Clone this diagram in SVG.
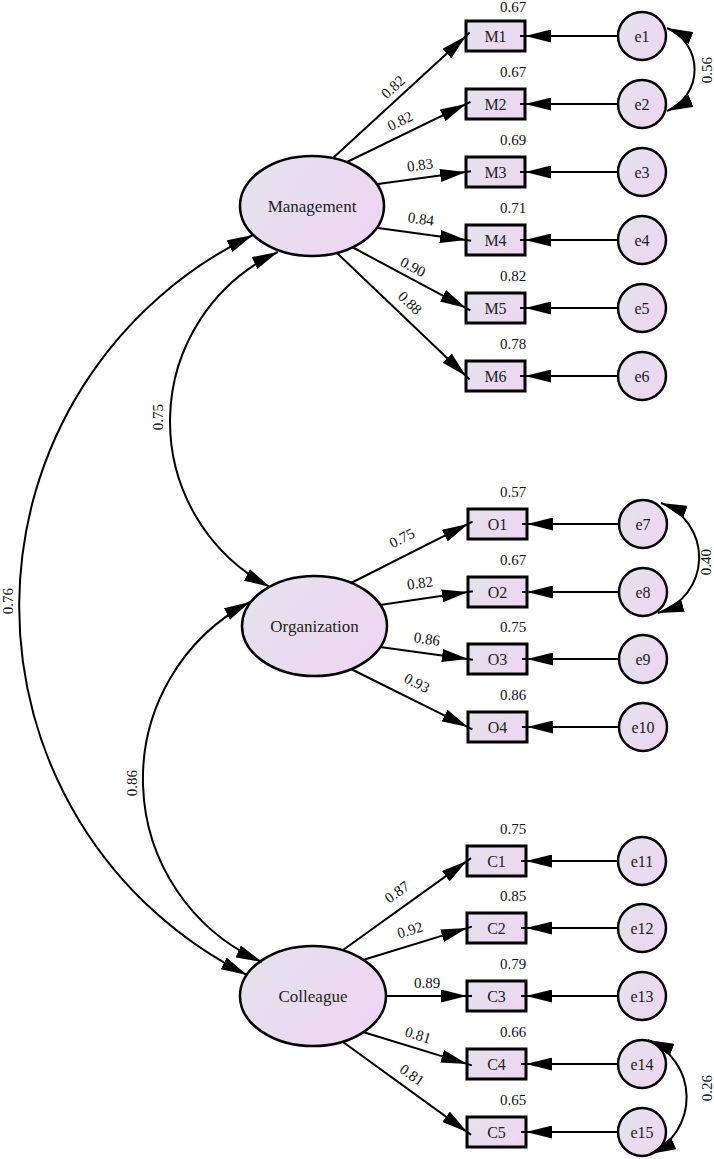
<svg xmlns="http://www.w3.org/2000/svg" width="714" height="1159" viewBox="0 0 714 1159">
<defs>
<linearGradient id="fill" x1="0" y1="0" x2="1" y2="0.5">
<stop offset="0" stop-color="#e3e3ed"/>
<stop offset="1" stop-color="#eed6f2"/>
</linearGradient>
<marker id="ah" viewBox="0 0 26 13" refX="26" refY="6.5" markerWidth="26" markerHeight="13" markerUnits="userSpaceOnUse" orient="auto-start-reverse"><path d="M0,0 L26,6.5 L0,13 z" fill="#000"/></marker>
<marker id="ahb" viewBox="0 0 26 13" refX="31" refY="6.5" markerWidth="26" markerHeight="13" markerUnits="userSpaceOnUse" orient="auto"><path d="M0,0 L26,6.5 L0,13 z" fill="#000"/></marker>
</defs>
<style>
.box{fill:url(#fill);stroke:#000;stroke-width:3}
.lat{fill:url(#fill);stroke:#000;stroke-width:2.5}
.err{fill:url(#fill);stroke:#000;stroke-width:2.5}
.t{font-family:"Liberation Serif","Times New Roman",serif;font-size:16px;fill:#222;text-anchor:middle}
.tl{font-family:"Liberation Serif","Times New Roman",serif;font-size:17px;fill:#222;text-anchor:middle}
.n{font-family:"Liberation Serif","Times New Roman",serif;font-size:15px;fill:#111;text-anchor:middle}
.c line,.c path{stroke:#000;stroke-width:2;fill:none}
</style>
<rect width="714" height="1159" fill="#fff"/>

<g id="Management"><ellipse class="lat" cx="312" cy="206" rx="72" ry="50"/><text class="tl" x="312" y="212">Management</text></g>
<g id="Organization"><ellipse class="lat" cx="314.5" cy="626" rx="72.5" ry="50"/><text class="tl" x="314.5" y="632">Organization</text></g>
<g id="Colleague"><ellipse class="lat" cx="313" cy="996" rx="73" ry="50"/><text class="tl" x="313" y="1002">Colleague</text></g>

<g id="M1"><rect class="box" x="466" y="21" width="59" height="30"/><text class="t" x="495.5" y="41.5">M1</text><text class="n" x="513" y="12">0.67</text></g>
<g id="M2"><rect class="box" x="466" y="89" width="59" height="30"/><text class="t" x="495.5" y="109.5">M2</text><text class="n" x="513" y="77">0.67</text></g>
<g id="M3"><rect class="box" x="466" y="157" width="59" height="30"/><text class="t" x="495.5" y="177.5">M3</text><text class="n" x="513" y="145">0.69</text></g>
<g id="M4"><rect class="box" x="466" y="225" width="59" height="30"/><text class="t" x="495.5" y="245.5">M4</text><text class="n" x="513" y="213">0.71</text></g>
<g id="M5"><rect class="box" x="466" y="293" width="59" height="30"/><text class="t" x="495.5" y="313.5">M5</text><text class="n" x="513" y="281">0.82</text></g>
<g id="M6"><rect class="box" x="466" y="361" width="59" height="30"/><text class="t" x="495.5" y="381.5">M6</text><text class="n" x="513" y="349">0.78</text></g>

<g id="O1"><rect class="box" x="468" y="509" width="59" height="30"/><text class="t" x="497.5" y="529.5">O1</text><text class="n" x="513" y="497">0.57</text></g>
<g id="O2"><rect class="box" x="468" y="577" width="59" height="30"/><text class="t" x="497.5" y="597.5">O2</text><text class="n" x="513" y="565">0.67</text></g>
<g id="O3"><rect class="box" x="468" y="644" width="59" height="30"/><text class="t" x="497.5" y="664.5">O3</text><text class="n" x="513" y="632">0.75</text></g>
<g id="O4"><rect class="box" x="468" y="712" width="59" height="30"/><text class="t" x="497.5" y="732.5">O4</text><text class="n" x="513" y="700">0.86</text></g>

<g id="C1"><rect class="box" x="467" y="846" width="59" height="30"/><text class="t" x="496.5" y="866.5">C1</text><text class="n" x="513" y="834">0.75</text></g>
<g id="C2"><rect class="box" x="467" y="913" width="59" height="30"/><text class="t" x="496.5" y="933.5">C2</text><text class="n" x="513" y="901">0.85</text></g>
<g id="C3"><rect class="box" x="467" y="981" width="59" height="30"/><text class="t" x="496.5" y="1001.5">C3</text><text class="n" x="513" y="969">0.79</text></g>
<g id="C4"><rect class="box" x="467" y="1049" width="59" height="30"/><text class="t" x="496.5" y="1069.5">C4</text><text class="n" x="513" y="1037">0.66</text></g>
<g id="C5"><rect class="box" x="467" y="1117" width="59" height="30"/><text class="t" x="496.5" y="1137.5">C5</text><text class="n" x="513" y="1105">0.65</text></g>

<g id="e1"><circle class="err" cx="642" cy="36" r="24"/><text class="t" x="642" y="41.5">e1</text></g>
<g id="e2"><circle class="err" cx="642" cy="104" r="24"/><text class="t" x="642" y="109.5">e2</text></g>
<g id="e3"><circle class="err" cx="642" cy="172" r="24"/><text class="t" x="642" y="177.5">e3</text></g>
<g id="e4"><circle class="err" cx="642" cy="240" r="24"/><text class="t" x="642" y="245.5">e4</text></g>
<g id="e5"><circle class="err" cx="642" cy="308" r="24"/><text class="t" x="642" y="313.5">e5</text></g>
<g id="e6"><circle class="err" cx="642" cy="376" r="24"/><text class="t" x="642" y="381.5">e6</text></g>
<g id="e7"><circle class="err" cx="643" cy="524" r="24"/><text class="t" x="643" y="529.5">e7</text></g>
<g id="e8"><circle class="err" cx="643" cy="592" r="24"/><text class="t" x="643" y="597.5">e8</text></g>
<g id="e9"><circle class="err" cx="643" cy="659" r="24"/><text class="t" x="643" y="664.5">e9</text></g>
<g id="e10"><circle class="err" cx="643" cy="727" r="24"/><text class="t" x="643" y="732.5">e10</text></g>
<g id="e11"><circle class="err" cx="642" cy="861" r="24"/><text class="t" x="642" y="866.5">e11</text></g>
<g id="e12"><circle class="err" cx="642" cy="928" r="24"/><text class="t" x="642" y="933.5">e12</text></g>
<g id="e13"><circle class="err" cx="642" cy="996" r="24"/><text class="t" x="642" y="1001.5">e13</text></g>
<g id="e14"><circle class="err" cx="642" cy="1064" r="24"/><text class="t" x="642" y="1069.5">e14</text></g>
<g id="e15"><circle class="err" cx="642" cy="1132" r="24"/><text class="t" x="642" y="1137.5">e15</text></g>

<g id="connectors" class="c">
<line x1="618" y1="36" x2="520" y2="36" marker-end="url(#ahb)"/>
<line x1="618" y1="104" x2="520" y2="104" marker-end="url(#ahb)"/>
<line x1="618" y1="172" x2="520" y2="172" marker-end="url(#ahb)"/>
<line x1="618" y1="240" x2="520" y2="240" marker-end="url(#ahb)"/>
<line x1="618" y1="308" x2="520" y2="308" marker-end="url(#ahb)"/>
<line x1="618" y1="376" x2="520" y2="376" marker-end="url(#ahb)"/>
<line x1="619" y1="524" x2="522" y2="524" marker-end="url(#ahb)"/>
<line x1="619" y1="592" x2="522" y2="592" marker-end="url(#ahb)"/>
<line x1="619" y1="659" x2="522" y2="659" marker-end="url(#ahb)"/>
<line x1="619" y1="727" x2="522" y2="727" marker-end="url(#ahb)"/>
<line x1="618" y1="861" x2="521" y2="861" marker-end="url(#ahb)"/>
<line x1="618" y1="928" x2="521" y2="928" marker-end="url(#ahb)"/>
<line x1="618" y1="996" x2="521" y2="996" marker-end="url(#ahb)"/>
<line x1="618" y1="1064" x2="521" y2="1064" marker-end="url(#ahb)"/>
<line x1="618" y1="1132" x2="521" y2="1132" marker-end="url(#ahb)"/>
<line x1="333" y1="158" x2="469.7" y2="32.6" marker-end="url(#ahb)"/>
<line x1="347" y1="162" x2="470.5" y2="101.8" marker-end="url(#ahb)"/>
<line x1="378" y1="184" x2="471" y2="171.3" marker-end="url(#ahb)"/>
<line x1="378" y1="228" x2="471" y2="240.7" marker-end="url(#ahb)"/>
<line x1="352" y1="247" x2="470.4" y2="310.4" marker-end="url(#ahb)"/>
<line x1="337" y1="253" x2="469.6" y2="379.5" marker-end="url(#ahb)"/>
<line x1="351" y1="583" x2="472.5" y2="521.7" marker-end="url(#ahb)"/>
<line x1="380" y1="605" x2="472.9" y2="591.3" marker-end="url(#ahb)"/>
<line x1="380" y1="647" x2="472.9" y2="659.7" marker-end="url(#ahb)"/>
<line x1="351" y1="669" x2="472.4" y2="729.3" marker-end="url(#ahb)"/>
<line x1="343" y1="950" x2="471" y2="858.1" marker-end="url(#ahb)"/>
<line x1="363" y1="960" x2="471.8" y2="926.6" marker-end="url(#ahb)"/>
<line x1="386" y1="996" x2="472" y2="996" marker-end="url(#ahb)"/>
<line x1="363" y1="1032" x2="471.8" y2="1065.4" marker-end="url(#ahb)"/>
<line x1="343" y1="1042" x2="471.1" y2="1134.9" marker-end="url(#ahb)"/>
<path d="M253,235 A412,412 0 0,0 247,975" marker-start="url(#ah)" marker-end="url(#ah)"/>
<path d="M278,252 A187,187 0 0,0 270,587" marker-start="url(#ah)" marker-end="url(#ah)"/>
<path d="M250,602 A200,200 0 0,0 262,962" marker-start="url(#ah)" marker-end="url(#ah)"/>
<path d="M667,28 A45,45 0 0,1 667,111" marker-start="url(#ah)" marker-end="url(#ah)"/>
<path d="M661,503 A58,58 0 0,1 658,613" marker-start="url(#ah)" marker-end="url(#ah)"/>
<path d="M648,1040 A62,62 0 0,1 650,1154" marker-start="url(#ah)" marker-end="url(#ah)"/>
</g>

<g id="labels">
<text class="n" transform="translate(393,87) rotate(-42.5)" x="0" y="5">0.82</text>
<text class="n" transform="translate(400,121) rotate(-26)" x="0" y="5">0.82</text>
<text class="n" transform="translate(420,165) rotate(-8)" x="0" y="5">0.83</text>
<text class="n" transform="translate(421,219) rotate(8)" x="0" y="5">0.84</text>
<text class="n" transform="translate(413,267) rotate(28)" x="0" y="5">0.90</text>
<text class="n" transform="translate(410,303) rotate(44)" x="0" y="5">0.88</text>
<text class="n" transform="translate(402,538) rotate(-27)" x="0" y="5">0.75</text>
<text class="n" transform="translate(420,583) rotate(-8)" x="0" y="5">0.82</text>
<text class="n" transform="translate(427,639) rotate(8)" x="0" y="5">0.86</text>
<text class="n" transform="translate(417,683) rotate(27)" x="0" y="5">0.93</text>
<text class="n" transform="translate(397,892) rotate(-36)" x="0" y="5">0.87</text>
<text class="n" transform="translate(410,930) rotate(-17)" x="0" y="5">0.92</text>
<text class="n" transform="translate(427,983)" x="0" y="5">0.89</text>
<text class="n" transform="translate(418,1035) rotate(17)" x="0" y="5">0.81</text>
<text class="n" transform="translate(412,1075) rotate(35)" x="0" y="5">0.81</text>
<text class="n" transform="translate(707,70) rotate(-90)" x="0" y="5">0.56</text>
<text class="n" transform="translate(706,562) rotate(-90)" x="0" y="5">0.40</text>
<text class="n" transform="translate(707,1088) rotate(-90)" x="0" y="5">0.26</text>
<text class="n" transform="translate(8,601) rotate(-90)" x="0" y="5">0.76</text>
<text class="n" transform="translate(158,417) rotate(-90)" x="0" y="5">0.75</text>
<text class="n" transform="translate(132,783) rotate(-90)" x="0" y="5">0.86</text>
</g>
</svg>
